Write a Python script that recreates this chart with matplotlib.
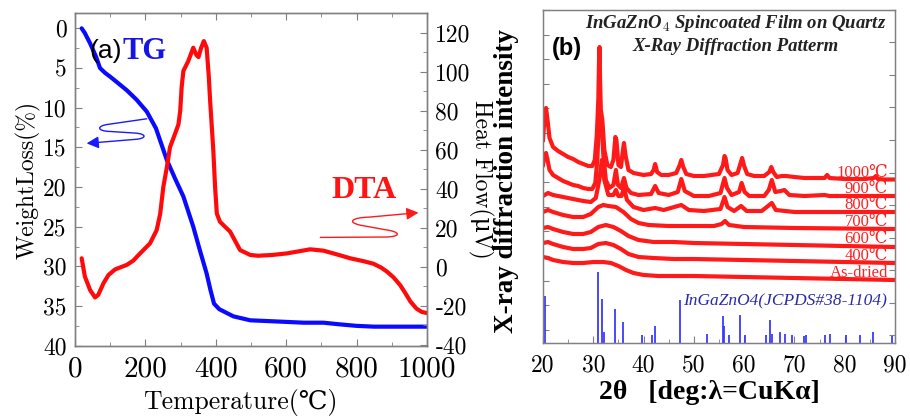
import matplotlib
matplotlib.use('Agg')
import matplotlib.pyplot as plt
from matplotlib.path import Path
from matplotlib.patches import FancyArrowPatch
from matplotlib.ticker import MultipleLocator

plt.rcParams['axes.unicode_minus'] = False
plt.rcParams['mathtext.fontset'] = 'cm'

CM = ['cmr10', 'DejaVu Serif']
SERIF = ['Liberation Serif', 'DejaVu Serif']

# ---------------- Panel (a) data ----------------
tg_temp = [19, 28, 43, 60, 71, 85, 100, 125, 147, 175, 204, 230, 261, 285, 308,
           336, 355, 374, 385, 395, 410, 450, 498, 550, 600, 650, 706, 750, 800,
           850, 900, 1000]
tg_loss = [0.0, 0.6, 1.9, 3.6, 5.0, 5.6, 6.1, 7.0, 7.8, 9.0, 10.5, 12.6, 16.6,
           19.0, 21.2, 25.0, 28.0, 30.9, 33.0, 34.7, 35.4, 36.3, 36.8, 36.9,
           37.0, 37.1, 37.1, 37.3, 37.5, 37.6, 37.6, 37.6]

dta_temp = [19, 28, 43, 57, 66, 81, 95, 114, 147, 165, 185, 213, 232, 242, 251,
            261, 270, 284, 294, 299, 303, 308, 322, 336, 345, 351, 358, 366, 374,
            380, 384, 393, 398, 403, 412, 441, 469, 498, 520, 560, 602, 640, 668,
            706, 740, 782, 820, 848, 870, 886, 905, 924, 940, 953, 970, 985, 1000]
dta_heat = [4.3, -5.0, -12.0, -15.8, -14.5, -8.5, -4.3, -1.4, 0.9, 3.0, 6.8,
            11.9, 18.7, 27.0, 40.9, 51.0, 61.3, 68.0, 73.0, 80.0, 92.0, 100.4,
            105.5, 112.3, 108.5, 107.5, 112.0, 115.7, 112.3, 98.0, 85.0, 59.6,
            40.9, 27.2, 23.0, 17.9, 8.5, 6.0, 5.6, 6.0, 6.8, 8.0, 8.9, 8.2, 6.5,
            4.3, 2.8, 1.5, -0.5, -2.5, -5.5, -9.5, -14.0, -17.9, -21.5, -23.2,
            -23.8]

# ---------------- Panel (b) data ----------------
th_1000 = [20.0, 20.3, 20.6, 20.9, 21.3, 22, 23, 24, 25, 26, 27, 28, 29, 29.8,
           30.3, 30.7, 31.0, 31.15, 31.25, 31.35, 31.5, 31.8, 32.2, 32.8, 33.5,
           34.0, 34.4, 34.6, 35.0, 35.5, 35.9, 36.1, 36.4, 37.0, 38, 40, 41.5,
           42.0, 42.3, 42.7, 43.5, 45, 46.5, 47.2, 47.5, 47.9, 48.5, 50, 52,
           53.5, 55.0, 55.8, 56.1, 56.3, 56.7, 57.5, 58.7, 59.3, 59.6, 60.0,
           60.6, 62, 64, 65.0, 65.4, 65.8, 66.5, 67.5, 68.3, 70, 72, 74, 76,
           76.5, 77, 80, 84, 85.8, 86.2, 86.6, 88, 90]
in_1000 = [203, 225, 235, 223, 205, 196, 192, 189, 186, 184, 181, 179, 177,
           177, 183, 208, 243, 283, 296, 263, 233, 223, 193, 178, 176, 183,
           206, 203, 178, 176, 193, 200, 188, 173, 170, 168, 169, 173, 179,
           171, 168, 168, 170, 178, 183, 176, 169, 167, 167, 168, 169, 178,
           187, 185, 173, 168, 170, 180, 185, 177, 169, 167, 167, 171, 176,
           171, 166, 167, 167, 166, 165, 165, 165, 168, 165, 164, 164, 165,
           167, 164, 163.5, 163.5]

th_900 = [20.0, 20.3, 20.6, 20.9, 21.3, 22, 23, 24, 25, 26, 27, 28, 29, 29.8,
          30.4, 30.8, 31.1, 31.4, 31.7, 32.0, 32.5, 33.2, 34.0, 34.5, 34.9,
          35.5, 36.1, 36.6, 37.5, 39, 41.5, 42.3, 43, 45, 46.8, 47.5, 48.2,
          50, 53, 55.3, 56.1, 56.6, 57.5, 59.0, 59.5, 60.1, 61, 64, 64.9,
          65.5, 66.2, 67.3, 68.0, 69, 72, 76, 77, 80, 90]
in_900 = [178, 188, 190, 183, 173, 168, 165, 162, 160, 158, 157, 155, 154,
          154, 160, 183, 218, 231, 218, 188, 163, 155, 158, 173, 158, 155,
          165, 155, 150, 148, 149, 157, 150, 148, 151, 164, 152, 147, 147,
          150, 165, 155, 148, 151, 160, 151, 147, 147, 153, 163, 151, 152,
          153, 148, 147, 148, 147, 147, 147]

th_800 = [20.0, 21, 22, 24, 26, 28, 29.5, 30.5, 31.2, 31.7, 32.2, 33, 34.0,
          34.5, 35.0, 35.6, 36.1, 36.7, 38, 40, 42.3, 44, 47.5, 49, 52, 55.3,
          56.1, 56.7, 58, 59.4, 60.5, 63.5, 65.5, 66.3, 70, 90]
in_800 = [147, 150, 148, 146, 144, 142, 141, 145, 163, 183, 163, 148, 148,
          153, 147, 147, 155, 143, 136, 133, 135, 133, 138, 133, 132, 134,
          146, 136, 132, 137, 132, 132, 140, 133, 131, 131]

th_700 = [20.0, 21, 22, 24, 26, 28, 29.5, 31, 32, 33, 34.5, 36, 37.5, 39, 41,
          45, 50, 54, 55.5, 56.2, 57, 60, 70, 90]
in_700 = [131, 133, 131, 128, 126, 126, 129, 136, 138, 137, 136, 131, 124,
          120, 118, 117, 117, 117, 119, 122, 118, 116, 115, 114]

th_600 = [20.0, 21, 22, 24, 26, 28, 29.5, 31, 32.5, 34, 35.5, 37, 39, 42, 46,
          50, 60, 70, 80, 90]
in_600 = [115, 116, 114, 111, 109, 109, 111, 116, 118, 116, 112, 107, 103,
          101, 101, 100, 99, 98, 97, 96]

th_400 = [20.0, 21, 22, 24, 26, 28, 29.5, 31, 32.5, 34, 35.5, 37, 39, 42, 46,
          50, 60, 70, 80, 90]
in_400 = [100, 101, 99, 96, 94, 94, 95, 99, 100, 98, 94, 89, 86, 85, 84, 84,
          83, 82, 81, 80]

th_dry = [20.0, 21, 22, 24, 26, 28, 30, 32, 33.5, 35, 36.5, 38, 40, 43, 46,
          50, 60, 70, 80, 90]
in_dry = [86, 85, 83, 81, 80, 80, 81, 81, 80, 77, 73, 70, 68, 67, 67, 67, 66,
          65, 64, 63]

curve_labels = ['1000℃', '900℃', '800℃', '700℃', '600℃', '400℃', 'As-dried']
label_levels = [166, 150, 134, 117, 100, 83, 66]

jcpds_2theta = [20.46, 30.87, 31.66, 32.1, 34.4, 35.9, 39.75, 41.67, 42.2,
                47.3, 52.7, 55.8, 55.98, 57.0, 59.2, 60.1, 64.3, 65.06, 65.46,
                67.1, 68.2, 69.6, 71.95, 72.35, 76.0, 77.1, 80.2, 83.1, 85.7,
                89.5]
jcpds_int = [47, 71.3, 43.7, 11.3, 33.7, 21.3, 8, 8, 17, 43, 9, 27, 17.3, 8,
             27.7, 8, 8, 23, 9, 11, 9, 7.7, 7, 7.7, 8, 9, 7.7, 8, 11, 7]

# ---------------- Figure ----------------
fig = plt.figure(figsize=(9.1, 4.18), dpi=100)
SPINE = '#808080'

# ----- Panel (a)
ax = fig.add_axes([0.0824, 0.1722, 0.3868, 0.7967])
ax2 = ax.twinx()
ax.plot(tg_temp, tg_loss, color='#0a0aff', lw=3.0, solid_capstyle='round')
ax2.plot(dta_temp, dta_heat, color='#ff0a0a', lw=3.0, solid_capstyle='round')
ax.set_xlim(0, 1000)
ax.set_ylim(40.04, -1.93)
ax2.set_ylim(-40.7, 130.1)

ax.xaxis.set_major_locator(MultipleLocator(200))
ax.xaxis.set_minor_locator(MultipleLocator(100))
ax.yaxis.set_major_locator(MultipleLocator(5))
ax.yaxis.set_minor_locator(MultipleLocator(2.5))
ax2.yaxis.set_major_locator(MultipleLocator(20))
ax2.yaxis.set_minor_locator(MultipleLocator(10))
for a in (ax, ax2):
    for s in a.spines.values():
        s.set_color(SPINE)
        s.set_linewidth(1.0)
ax.tick_params(which='both', direction='in', top=True, right=False, color=SPINE)
ax.tick_params(which='major', length=5)
ax.tick_params(which='minor', length=3)
ax.tick_params(axis='x', labelsize=21, pad=7)
ax.tick_params(axis='y', labelsize=17, pad=6)
ax2.tick_params(which='both', direction='in', color=SPINE, labelsize=17, pad=6)
ax2.tick_params(which='major', length=5)
ax2.tick_params(which='minor', length=3)
for lab in ax.get_xticklabels() + ax.get_yticklabels() + ax2.get_yticklabels():
    lab.set_family(CM)

ax.set_xlabel('Temperature(℃)', fontsize=18.5, family=CM)
ax.xaxis.set_label_coords(0.469, -0.128)
ax.set_ylabel('WeightLoss(%)', fontsize=17, family=CM, labelpad=2)
ax2.set_ylabel('Heat Flow(μV)', fontsize=17, family=CM, rotation=270,
               labelpad=16)

ax.text(0.04, 0.885, '(a)', transform=ax.transAxes, fontsize=19,
        family='Liberation Sans', color='black', va='center', ha='left')
ax.text(0.135, 0.885, 'TG', transform=ax.transAxes, fontsize=22,
        family=SERIF, weight='bold', color='#1414e6', va='center', ha='left')
ax.text(0.82, 0.468, 'DTA', transform=ax.transAxes, fontsize=23,
        family=SERIF, weight='bold', color='#ff1414', va='center', ha='center')

blue_path = Path([(204, 11.4), (95, 12.1), (60, 12.3), (62, 12.95), (100, 13.0),
                  (170, 13.2), (205, 13.3), (205, 13.9), (170, 14.0), (33, 14.5)],
                 [Path.MOVETO, Path.LINETO, Path.CURVE4, Path.CURVE4, Path.CURVE4,
                  Path.LINETO, Path.CURVE4, Path.CURVE4, Path.CURVE4, Path.LINETO])
ax.add_patch(FancyArrowPatch(path=blue_path, arrowstyle='-|>,head_length=0.6,head_width=0.3',
                             mutation_scale=12, color='#1a1aff', lw=1.0))
red_path = Path([(697, 15.0), (880, 15.2), (928, 15.3), (928, 17.8), (880, 19.0),
                 (810, 21.3), (770, 23.0), (790, 25.2), (835, 25.4), (976, 27.7)],
                [Path.MOVETO, Path.LINETO, Path.CURVE4, Path.CURVE4, Path.CURVE4,
                 Path.LINETO, Path.CURVE4, Path.CURVE4, Path.CURVE4, Path.LINETO])
ax2.add_patch(FancyArrowPatch(path=red_path, arrowstyle='-|>,head_length=0.6,head_width=0.3',
                              mutation_scale=12, color='#ff1a1a', lw=1.0))

# ----- Panel (b)
bx = fig.add_axes([0.5967, 0.1794, 0.3868, 0.7967])
curves = [(th_1000, in_1000), (th_900, in_900), (th_800, in_800),
          (th_700, in_700), (th_600, in_600), (th_400, in_400),
          (th_dry, in_dry)]
for th, inten in curves:
    bx.plot(th, inten, color='#ff1a1a', lw=3.0, solid_joinstyle='round')
bx.vlines(jcpds_2theta, 0, jcpds_int, color='#3a3aff', lw=1.3)
bx.set_xlim(20, 90)
bx.set_ylim(0, 333)

for lab, lev in zip(curve_labels, label_levels):
    bx.text(88.6, lev, lab, fontsize=12, family=SERIF, color='#ff2020',
            ha='right', va='baseline')
bx.text(88.4, 41.3, 'InGaZnO4(JCPDS#38-1104)', fontsize=12.5, family=SERIF,
        style='italic', color='#2a2aa8', ha='right', va='center')
bx.text(0.548, 0.958, r'InGaZnO$_{\mathbf{4}}$ Spincoated Film on Quartz',
        transform=bx.transAxes, fontsize=13.5, family=SERIF, weight='bold',
        style='italic', ha='center', va='center', color='#222222')
bx.text(0.548, 0.89, 'X-Ray Diffraction Patterm', transform=bx.transAxes,
        fontsize=13.5, family=SERIF, weight='bold', style='italic',
        ha='center', va='center', color='#222222')
bx.text(0.025, 0.885, '(b)', transform=bx.transAxes, fontsize=17,
        family='Liberation Sans', weight='bold', ha='left', va='center')

bx.xaxis.set_major_locator(MultipleLocator(10))
bx.xaxis.set_minor_locator(MultipleLocator(5))
bx.yaxis.set_major_locator(MultipleLocator(24.6, offset=13.2))
bx.set_yticklabels([])
for s in bx.spines.values():
    s.set_color(SPINE)
    s.set_linewidth(1.0)
bx.tick_params(which='both', direction='in', color=SPINE)
bx.tick_params(axis='x', which='major', length=5, labelsize=17, pad=8)
bx.tick_params(axis='x', which='minor', length=3)
bx.tick_params(axis='y', length=4, labelleft=False)
for lab in bx.get_xticklabels():
    lab.set_family(CM)
bx2 = bx.twinx()
bx2.set_ylim(0, 333)
bx2.yaxis.set_major_locator(MultipleLocator(32.5, offset=8))
bx2.tick_params(direction='in', length=4, color=SPINE, labelright=False)
for s in bx2.spines.values():
    s.set_color(SPINE)

bx.set_xlabel('2θ   [deg:λ=CuKα]', fontsize=20, family=SERIF, weight='bold')
bx.xaxis.set_label_coords(0.474, -0.112)
bx.set_ylabel('X-ray diffraction intensity', fontsize=19.5, family=SERIF,
              weight='bold')
bx.yaxis.set_label_coords(-0.068, 0.485)

fig.savefig('out.png', dpi=100)
